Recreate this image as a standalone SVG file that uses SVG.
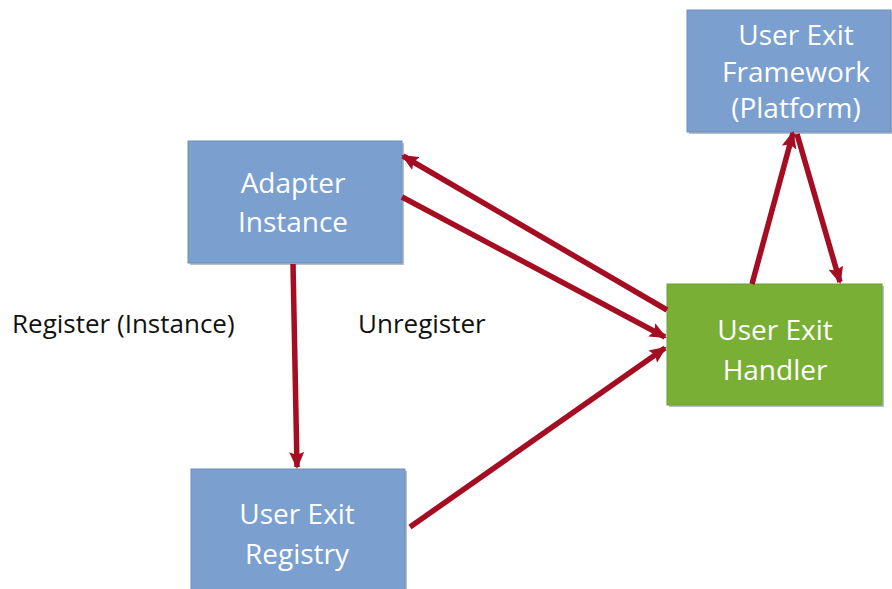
<svg xmlns="http://www.w3.org/2000/svg" width="892" height="589" viewBox="0 0 892 589">
<defs>
<style>
.box{fill:#7b9fcf;stroke:#6f8fba;stroke-width:1}
.green{fill:#7aaf35;stroke:#6e9e30;stroke-width:1}
.shadow{fill:#5c6f8a;opacity:0.45}
.nt{font-family:"Open Sans","Liberation Sans",sans-serif;font-size:28px;fill:#ffffff;text-anchor:middle}
.lbl{font-family:"Open Sans","Liberation Sans",sans-serif;font-size:26px;fill:#111111}
.conn{stroke:#a50d22;stroke-width:5.5;fill:none;marker-end:url(#ah)}
</style>
<marker id="ah" markerUnits="userSpaceOnUse" viewBox="0 0 17 15" refX="15" refY="7.5" markerWidth="17" markerHeight="15" orient="auto">
<path d="M0,0 L17,7.5 L0,15 L3,7.5 Z" fill="#a50d22"/>
</marker>
</defs>
<rect width="892" height="589" fill="#ffffff"/>
<g id="adapter-instance">
<rect class="shadow" x="190" y="143" width="214" height="122"/>
<rect class="box" x="188" y="141" width="214" height="122"/>
<text class="nt" x="293" y="193">Adapter</text>
<text class="nt" x="293" y="232">Instance</text>
</g>
<g id="user-exit-framework">
<rect class="shadow" x="689" y="12" width="204" height="122"/>
<rect class="box" x="687" y="10" width="204" height="122"/>
<text class="nt" x="796" y="45">User Exit</text>
<text class="nt" x="796" y="82">Framework</text>
<text class="nt" x="796" y="118">(Platform)</text>
</g>
<g id="user-exit-handler">
<rect class="shadow" x="669" y="286" width="215" height="121"/>
<rect class="green" x="667" y="284" width="215" height="121"/>
<text class="nt" x="775" y="340">User Exit</text>
<text class="nt" x="775" y="380">Handler</text>
</g>
<g id="user-exit-registry">
<rect class="shadow" x="193" y="471" width="214" height="122"/>
<rect class="box" x="191" y="469" width="214" height="122"/>
<text class="nt" x="297" y="524">User Exit</text>
<text class="nt" x="297" y="564">Registry</text>
</g>
<g id="labels">
<text class="lbl" x="12" y="333">Register (Instance)</text>
<text class="lbl" x="358" y="333">Unregister</text>
</g>
<g id="connectors">
<line class="conn" x1="667" y1="310" x2="403" y2="156"/>
<line class="conn" x1="402" y1="197" x2="665" y2="337"/>
<line class="conn" x1="410" y1="527" x2="665" y2="348"/>
<line class="conn" x1="293" y1="264" x2="297" y2="467"/>
<line class="conn" x1="752" y1="284" x2="793" y2="133"/>
<line class="conn" x1="797" y1="134" x2="840" y2="282"/>
</g>
</svg>
